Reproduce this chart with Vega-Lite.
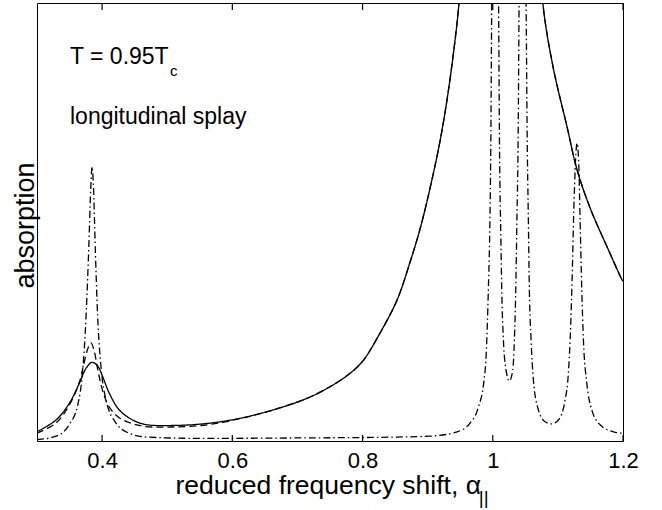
{
  "$schema": "https://vega.github.io/schema/vega-lite/v6.json",
  "width": 586,
  "height": 438,
  "autosize": {"type": "none"},
  "padding": {"left": 37, "top": 3, "right": 39, "bottom": 69},
  "background": "white",
  "config": {
    "view": {"stroke": "black", "strokeWidth": 1},
    "font": "Liberation Sans",
    "axis": {"grid": false, "domain": false, "labelColor": "black", "titleColor": "black", "tickColor": "black", "titleFontWeight": "normal", "labelFont": "Liberation Sans", "titleFont": "Liberation Sans"}
  },
  "datasets": {
    "curves": [
      {"series": "solid", "x": 0.3000, "a": 0.0212},
      {"series": "solid", "x": 0.3292, "a": 0.0479},
      {"series": "solid", "x": 0.3496, "a": 0.0861},
      {"series": "solid", "x": 0.3650, "a": 0.1317},
      {"series": "solid", "x": 0.3753, "a": 0.1660},
      {"series": "solid", "x": 0.3845, "a": 0.1797},
      {"series": "solid", "x": 0.3932, "a": 0.1712},
      {"series": "solid", "x": 0.4009, "a": 0.1468},
      {"series": "solid", "x": 0.4111, "a": 0.1089},
      {"series": "solid", "x": 0.4264, "a": 0.0708},
      {"series": "solid", "x": 0.4470, "a": 0.0479},
      {"series": "solid", "x": 0.4674, "a": 0.0375},
      {"series": "solid", "x": 0.5089, "a": 0.0354},
      {"series": "solid", "x": 0.5611, "a": 0.0400},
      {"series": "solid", "x": 0.6118, "a": 0.0518},
      {"series": "solid", "x": 0.6625, "a": 0.0708},
      {"series": "solid", "x": 0.7147, "a": 0.0975},
      {"series": "solid", "x": 0.7501, "a": 0.1240},
      {"series": "solid", "x": 0.7808, "a": 0.1546},
      {"series": "solid", "x": 0.8012, "a": 0.1842},
      {"series": "solid", "x": 0.8269, "a": 0.2466},
      {"series": "solid", "x": 0.8530, "a": 0.3219},
      {"series": "solid", "x": 0.8730, "a": 0.4087},
      {"series": "solid", "x": 0.8883, "a": 0.4840},
      {"series": "solid", "x": 0.9037, "a": 0.5776},
      {"series": "solid", "x": 0.9190, "a": 0.6849},
      {"series": "solid", "x": 0.9313, "a": 0.7945},
      {"series": "solid", "x": 0.9421, "a": 0.9155},
      {"series": "solid", "x": 0.9482, "a": 1.0},
      {"series": "solid", "x": 0.9600, "a": 1.22},
      {"series": "solid", "x": 0.9900, "a": 1.7},
      {"series": "solid", "x": 1.0200, "a": 1.9},
      {"series": "solid", "x": 1.0500, "a": 1.6},
      {"series": "solid", "x": 1.0650, "a": 1.28},
      {"series": "solid", "x": 1.0768, "a": 1.0},
      {"series": "solid", "x": 1.0926, "a": 0.854},
      {"series": "solid", "x": 1.1141, "a": 0.717},
      {"series": "solid", "x": 1.1295, "a": 0.619},
      {"series": "solid", "x": 1.1495, "a": 0.532},
      {"series": "solid", "x": 1.1756, "a": 0.443},
      {"series": "solid", "x": 1.1986, "a": 0.368},
      {"series": "solid", "x": 1.2000, "a": 0.365},

      {"series": "dashed", "x": 0.3000, "a": 0.018},
      {"series": "dashed", "x": 0.3292, "a": 0.041},
      {"series": "dashed", "x": 0.3496, "a": 0.082},
      {"series": "dashed", "x": 0.3650, "a": 0.134},
      {"series": "dashed", "x": 0.3722, "a": 0.178},
      {"series": "dashed", "x": 0.3783, "a": 0.212},
      {"series": "dashed", "x": 0.3829, "a": 0.224},
      {"series": "dashed", "x": 0.3876, "a": 0.207},
      {"series": "dashed", "x": 0.3937, "a": 0.160},
      {"series": "dashed", "x": 0.4014, "a": 0.112},
      {"series": "dashed", "x": 0.4121, "a": 0.075},
      {"series": "dashed", "x": 0.4275, "a": 0.052},
      {"series": "dashed", "x": 0.4475, "a": 0.039},
      {"series": "dashed", "x": 0.4674, "a": 0.033},
      {"series": "dashed", "x": 0.5089, "a": 0.032},
      {"series": "dashed", "x": 0.5611, "a": 0.037},
      {"series": "dashed", "x": 0.6118, "a": 0.051},
      {"series": "dashed", "x": 0.6625, "a": 0.0708},
      {"series": "dashed", "x": 0.7147, "a": 0.0975},
      {"series": "dashed", "x": 0.7501, "a": 0.1240},
      {"series": "dashed", "x": 0.7808, "a": 0.1546},
      {"series": "dashed", "x": 0.8012, "a": 0.1842},
      {"series": "dashed", "x": 0.8269, "a": 0.2466},
      {"series": "dashed", "x": 0.8530, "a": 0.3219},
      {"series": "dashed", "x": 0.8730, "a": 0.4087},
      {"series": "dashed", "x": 0.8883, "a": 0.4840},
      {"series": "dashed", "x": 0.9037, "a": 0.5776},
      {"series": "dashed", "x": 0.9190, "a": 0.6849},
      {"series": "dashed", "x": 0.9313, "a": 0.7945},
      {"series": "dashed", "x": 0.9421, "a": 0.9155},
      {"series": "dashed", "x": 0.9482, "a": 1.0},
      {"series": "dashed", "x": 0.9600, "a": 1.22},
      {"series": "dashed", "x": 0.9900, "a": 1.7},
      {"series": "dashed", "x": 1.0200, "a": 1.9},
      {"series": "dashed", "x": 1.0500, "a": 1.6},
      {"series": "dashed", "x": 1.0650, "a": 1.28},
      {"series": "dashed", "x": 1.0768, "a": 1.0},
      {"series": "dashed", "x": 1.0926, "a": 0.854},
      {"series": "dashed", "x": 1.1141, "a": 0.717},
      {"series": "dashed", "x": 1.1295, "a": 0.619},
      {"series": "dashed", "x": 1.1495, "a": 0.532},
      {"series": "dashed", "x": 1.1756, "a": 0.443},
      {"series": "dashed", "x": 1.1986, "a": 0.368},
      {"series": "dashed", "x": 1.2000, "a": 0.365},

      {"series": "dashdot", "x": 0.3000, "a": 0.003},
      {"series": "dashdot", "x": 0.3292, "a": 0.011},
      {"series": "dashdot", "x": 0.3492, "a": 0.037},
      {"series": "dashdot", "x": 0.3625, "a": 0.082},
      {"series": "dashdot", "x": 0.3702, "a": 0.162},
      {"series": "dashdot", "x": 0.3753, "a": 0.283},
      {"series": "dashdot", "x": 0.3794, "a": 0.436},
      {"series": "dashdot", "x": 0.3829, "a": 0.589},
      {"series": "dashdot", "x": 0.3845, "a": 0.626},
      {"series": "dashdot", "x": 0.3865, "a": 0.589},
      {"series": "dashdot", "x": 0.3896, "a": 0.436},
      {"series": "dashdot", "x": 0.3932, "a": 0.283},
      {"series": "dashdot", "x": 0.3983, "a": 0.169},
      {"series": "dashdot", "x": 0.4060, "a": 0.094},
      {"series": "dashdot", "x": 0.4214, "a": 0.041},
      {"series": "dashdot", "x": 0.4413, "a": 0.018},
      {"series": "dashdot", "x": 0.4674, "a": 0.009},
      {"series": "dashdot", "x": 0.5504, "a": 0.006},
      {"series": "dashdot", "x": 0.7040, "a": 0.007},
      {"series": "dashdot", "x": 0.8530, "a": 0.009},
      {"series": "dashdot", "x": 0.9037, "a": 0.011},
      {"series": "dashdot", "x": 0.9452, "a": 0.021},
      {"series": "dashdot", "x": 0.9651, "a": 0.041},
      {"series": "dashdot", "x": 0.9774, "a": 0.075},
      {"series": "dashdot", "x": 0.9866, "a": 0.139},
      {"series": "dashdot", "x": 0.9897, "a": 0.192},
      {"series": "dashdot", "x": 0.9917, "a": 0.269},
      {"series": "dashdot", "x": 0.9932, "a": 0.345},
      {"series": "dashdot", "x": 0.9951, "a": 0.459},
      {"series": "dashdot", "x": 0.9969, "a": 0.664},
      {"series": "dashdot", "x": 0.9984, "a": 1.0},
      {"series": "dashdot", "x": 1.0035, "a": 1.5},
      {"series": "dashdot", "x": 1.0089, "a": 1.0},
      {"series": "dashdot", "x": 1.0104, "a": 0.664},
      {"series": "dashdot", "x": 1.0125, "a": 0.459},
      {"series": "dashdot", "x": 1.0138, "a": 0.345},
      {"series": "dashdot", "x": 1.0163, "a": 0.231},
      {"series": "dashdot", "x": 1.0204, "a": 0.162},
      {"series": "dashdot", "x": 1.0255, "a": 0.137},
      {"series": "dashdot", "x": 1.0307, "a": 0.162},
      {"series": "dashdot", "x": 1.0332, "a": 0.231},
      {"series": "dashdot", "x": 1.0353, "a": 0.345},
      {"series": "dashdot", "x": 1.0370, "a": 0.50},
      {"series": "dashdot", "x": 1.0390, "a": 0.70},
      {"series": "dashdot", "x": 1.0404, "a": 1.0},
      {"series": "dashdot", "x": 1.0458, "a": 1.5},
      {"series": "dashdot", "x": 1.0512, "a": 1.0},
      {"series": "dashdot", "x": 1.0528, "a": 0.70},
      {"series": "dashdot", "x": 1.0547, "a": 0.50},
      {"series": "dashdot", "x": 1.0562, "a": 0.345},
      {"series": "dashdot", "x": 1.0588, "a": 0.231},
      {"series": "dashdot", "x": 1.0624, "a": 0.139},
      {"series": "dashdot", "x": 1.0701, "a": 0.071},
      {"series": "dashdot", "x": 1.0803, "a": 0.044},
      {"series": "dashdot", "x": 1.0906, "a": 0.039},
      {"series": "dashdot", "x": 1.1008, "a": 0.048},
      {"series": "dashdot", "x": 1.1111, "a": 0.094},
      {"series": "dashdot", "x": 1.1161, "a": 0.155},
      {"series": "dashdot", "x": 1.1198, "a": 0.269},
      {"series": "dashdot", "x": 1.1214, "a": 0.345},
      {"series": "dashdot", "x": 1.1249, "a": 0.550},
      {"series": "dashdot", "x": 1.1280, "a": 0.664},
      {"series": "dashdot", "x": 1.1295, "a": 0.680},
      {"series": "dashdot", "x": 1.1318, "a": 0.642},
      {"series": "dashdot", "x": 1.1341, "a": 0.505},
      {"series": "dashdot", "x": 1.1367, "a": 0.345},
      {"series": "dashdot", "x": 1.1392, "a": 0.231},
      {"series": "dashdot", "x": 1.1444, "a": 0.132},
      {"series": "dashdot", "x": 1.1521, "a": 0.071},
      {"series": "dashdot", "x": 1.1649, "a": 0.037},
      {"series": "dashdot", "x": 1.1853, "a": 0.021},
      {"series": "dashdot", "x": 1.1986, "a": 0.018},
      {"series": "dashdot", "x": 1.2000, "a": 0.018}
    ],
    "tickpos": [
      {"t": 0.4, "lo": 0, "hi": 0.0137}, {"t": 0.6, "lo": 0, "hi": 0.0137}, {"t": 0.8, "lo": 0, "hi": 0.0137}, {"t": 1.0, "lo": 0, "hi": 0.0137}, {"t": 1.2, "lo": 0, "hi": 0.0137},
      {"t": 0.4, "lo": 0.984, "hi": 1}, {"t": 0.6, "lo": 0.984, "hi": 1}, {"t": 0.8, "lo": 0.984, "hi": 1}, {"t": 1.0, "lo": 0.984, "hi": 1}, {"t": 1.2, "lo": 0.984, "hi": 1}
    ],
    "notes": [
      {"kind": "main", "label": "T = 0.95T", "x": 0.3507, "a": 0.861},
      {"kind": "sub", "label": "c", "x": 0.5043, "a": 0.833},
      {"kind": "main", "label": "longitudinal splay", "x": 0.3507, "a": 0.724},
      {"kind": "xsub", "label": "||", "x": 0.9785, "a": -0.144}
    ]
  },
  "layer": [
    {
      "data": {"name": "curves"},
      "transform": [{"filter": "datum.series !== 'dashdot'"}],
      "mark": {"type": "line", "clip": true, "color": "black", "strokeWidth": 1.3, "interpolate": "catmull-rom"},
      "encoding": {
        "x": {"field": "x", "type": "quantitative",
          "scale": {"domain": [0.3, 1.2], "nice": false, "zero": false},
          "axis": {"orient": "bottom", "values": [0.4, 0.6, 0.8, 1, 1.2], "format": "~g", "labelFontSize": 22, "labelFlush": false, "labelBaseline": "alphabetic", "labelPadding": 26, "ticks": false,
            "title": "reduced frequency shift, α", "titleFontSize": 26.5, "titleAlign": "left", "titleBaseline": "alphabetic", "titleX": 138, "titleY": 52, "titleAnchor": null}},
        "y": {"field": "a", "type": "quantitative",
          "scale": {"domain": [0, 1], "nice": false, "zero": false},
          "axis": {"labels": false, "ticks": false, "title": "absorption", "titleFontSize": 27, "titleAngle": -90, "titleAlign": "center", "titleBaseline": "alphabetic", "titleX": -4, "titleY": 222}},
        "strokeDash": {"field": "series", "type": "nominal",
          "scale": {"domain": ["solid", "dashed", "dashdot"], "range": [[1, 0], [7, 4], [7, 3, 1.5, 3]]},
          "legend": null},
        "detail": {"field": "series"}
      }
    },
    {
      "data": {"name": "curves"},
      "transform": [{"filter": "datum.series === 'dashdot'"}],
      "mark": {"type": "line", "clip": true, "color": "black", "strokeWidth": 1.3, "interpolate": "monotone", "strokeDash": [7, 3, 1.5, 3]},
      "encoding": {
        "x": {"field": "x", "type": "quantitative", "scale": {"domain": [0.3, 1.2], "nice": false, "zero": false}},
        "y": {"field": "a", "type": "quantitative", "scale": {"domain": [0, 1], "nice": false, "zero": false}}
      }
    },
    {
      "data": {"name": "tickpos"},
      "mark": {"type": "rule", "color": "black", "strokeWidth": 1.2},
      "encoding": {
        "x": {"field": "t", "type": "quantitative", "scale": {"domain": [0.3, 1.2], "nice": false, "zero": false}},
        "y": {"field": "lo", "type": "quantitative", "scale": {"domain": [0, 1], "nice": false, "zero": false}},
        "y2": {"field": "hi"}
      }
    },
    {
      "data": {"name": "notes"},
      "transform": [{"filter": "datum.kind === 'main'"}],
      "mark": {"type": "text", "align": "left", "baseline": "alphabetic", "fontSize": 23, "color": "black", "font": "Liberation Sans"},
      "encoding": {
        "x": {"field": "x", "type": "quantitative", "scale": {"domain": [0.3, 1.2], "nice": false, "zero": false}},
        "y": {"field": "a", "type": "quantitative", "scale": {"domain": [0, 1], "nice": false, "zero": false}},
        "text": {"field": "label"}
      }
    },
    {
      "data": {"name": "notes"},
      "transform": [{"filter": "datum.kind === 'sub'"}],
      "mark": {"type": "text", "align": "left", "baseline": "alphabetic", "fontSize": 15, "color": "black", "font": "Liberation Sans"},
      "encoding": {
        "x": {"field": "x", "type": "quantitative", "scale": {"domain": [0.3, 1.2], "nice": false, "zero": false}},
        "y": {"field": "a", "type": "quantitative", "scale": {"domain": [0, 1], "nice": false, "zero": false}},
        "text": {"field": "label"}
      }
    },
    {
      "data": {"name": "notes"},
      "transform": [{"filter": "datum.kind === 'xsub'"}],
      "mark": {"type": "text", "align": "left", "baseline": "alphabetic", "fontSize": 19, "color": "black", "font": "Liberation Sans", "clip": false},
      "encoding": {
        "x": {"field": "x", "type": "quantitative", "scale": {"domain": [0.3, 1.2], "nice": false, "zero": false}},
        "y": {"field": "a", "type": "quantitative", "scale": {"domain": [0, 1], "nice": false, "zero": false}},
        "text": {"field": "label"}
      }
    }
  ]
}
